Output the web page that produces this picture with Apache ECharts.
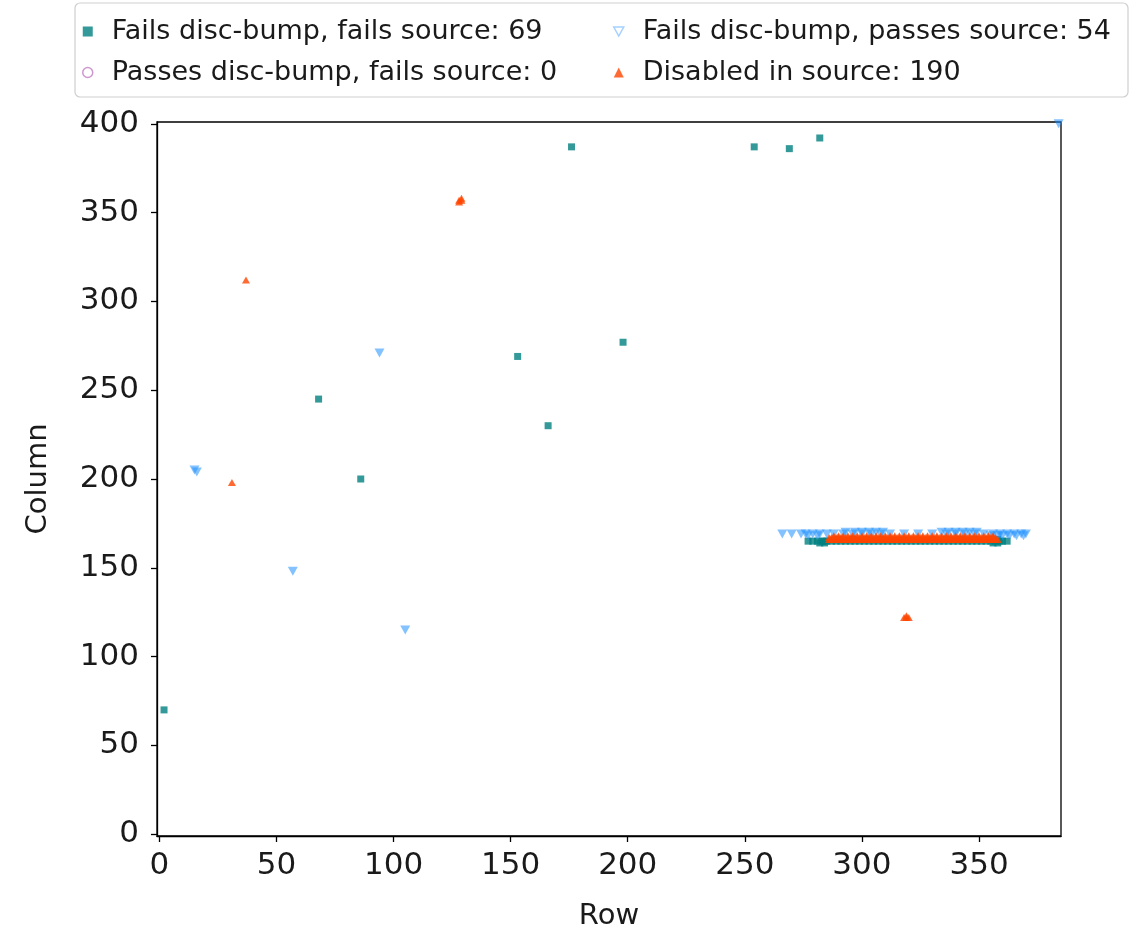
<!DOCTYPE html>
<html>
<head>
<meta charset="utf-8">
<script src="https://cdn.jsdelivr.net/npm/echarts@6/dist/echarts.min.js"></script>
<style>
  html, body { margin: 0; padding: 0; background: #fff; }
  #chart { width: 1148px; height: 936px; }
</style>
</head>
<body>
<div id="chart"></div>
<script>
// tick labels
const rowTicks = [0, 50, 100, 150, 200, 250, 300, 350]
const colTicks = [0, 50, 100, 150, 200, 250, 300, 350, 400]

// fails disc-bump, fails source: [row, column]
const failsFailsLoose = [[2, 70], [68, 245], [86, 200], [153, 269], [166, 230], [176, 387], [198, 277], [254, 387], [269, 386], [282, 392]]
const failsFailsBand165 = [277, 279, 281, 283, 284, 285, 287, 289, 291, 293, 295, 297, 299, 301, 303, 305, 307, 309, 311, 313, 315, 317, 319, 321, 323, 325, 327, 329, 331, 333, 335, 337, 339, 341, 343, 345, 347, 349, 351, 353, 355, 357, 359, 360, 362]
const failsFailsBand166 = [290, 296, 302, 308, 330, 336, 342, 348, 354, 358]
const failsFailsBand164 = [282, 284, 356, 358]

// passes disc-bump, fails source: none
const passesFails = []

// fails disc-bump, passes source
const failsPassesLoose = [[15, 205], [16, 204], [57, 148], [94, 271], [105, 115], [384, 400]]
const failsPassesBand169 = [266, 270, 274, 276, 279, 282, 285, 288, 292, 296, 300, 304, 308, 312, 318, 324, 330, 336, 340, 344, 348, 352, 356, 359, 362, 365, 368, 370]
const failsPassesBand170 = [293, 297, 300, 303, 306, 309, 334, 337, 340, 343, 346, 349]
const failsPassesBand168 = [277, 281, 355, 358, 360, 363, 366, 369]

// disabled in source
const disabledLoose = [[31, 198], [37, 312], [128, 356], [129, 357], [129, 358], [128, 357], [318, 122], [319, 123], [320, 122], [319, 122]]
const disabledBand166 = [286, 287, 288, 289, 290, 291, 292, 293, 294, 295, 296, 297, 298, 299, 300, 301, 302, 303, 304, 305, 306, 307, 308, 309, 310, 311, 312, 313, 314, 315, 316, 317, 318, 319, 320, 321, 322, 323, 324, 325, 326, 327, 328, 329, 330, 331, 332, 333, 334, 335, 336, 337, 338, 339, 340, 341, 342, 343, 344, 345, 346, 347, 348, 349, 350, 351, 352, 353, 354, 355, 356, 357, 358]
const disabledBand167 = [286, 287, 288, 289, 290, 291, 292, 293, 294, 295, 296, 297, 298, 299, 300, 301, 302, 303, 304, 305, 306, 307, 308, 309, 310, 311, 312, 313, 314, 315, 316, 317, 318, 319, 320, 321, 322, 323, 324, 325, 326, 327, 328, 329, 330, 331, 332, 333, 334, 335, 336, 337, 338, 339, 340, 341, 342, 343, 344, 345, 346, 347, 348, 349, 350, 351, 352, 353, 354, 355, 356, 357]
const disabledBand168 = [288, 290, 292, 294, 296, 298, 300, 302, 304, 306, 308, 310, 312, 314, 316, 318, 320, 322, 324, 326, 328, 330, 332, 334, 336, 338, 340, 342, 344, 346, 348, 350, 352, 354, 356]

const band = (rows, col) => rows.map(r => [r, col])

const failsFails = failsFailsLoose.concat(band(failsFailsBand165, 165), band(failsFailsBand166, 166), band(failsFailsBand164, 164))
const failsPasses = failsPassesLoose.concat(band(failsPassesBand169, 169), band(failsPassesBand170, 170), band(failsPassesBand168, 168))
const disabled = disabledLoose.concat(band(disabledBand166, 166), band(disabledBand167, 167), band(disabledBand168, 168))

const nameFF = 'Fails disc-bump, fails source: ' + failsFails.length
const namePF = 'Passes disc-bump, fails source: ' + passesFails.length
const nameFP = 'Fails disc-bump, passes source: ' + failsPasses.length
const nameDis = 'Disabled in source: ' + disabled.length

const font = 'DejaVu Sans'
const downTri = 'path://M0,0 L10,0 L5,9 Z'

const legendText = { fontFamily: font, fontSize: 27, color: '#1a1a1a', padding: [0, 0, 0, 14] }
const tickText = { fontFamily: font, fontSize: 31, color: '#1a1a1a' }
const nameText = { fontFamily: font, fontSize: 29, color: '#1a1a1a' }

const option = {
  animation: false,
  backgroundColor: '#fff',
  graphic: [{
    type: 'rect',
    shape: { x: 75, y: 3, width: 1053, height: 94, r: 5 },
    style: { fill: '#fff', stroke: '#cfcfcf', lineWidth: 1.2 },
    z: -1,
  }],
  legend: [
    {
      orient: 'vertical',
      left: 82,
      top: 18,
      padding: 0,
      itemGap: 14,
      itemWidth: 10,
      itemHeight: 10,
      selectedMode: false,
      textStyle: legendText,
      data: [
        { name: nameFF, icon: 'rect', itemStyle: { color: '#008080' } },
        { name: namePF, icon: 'circle', itemStyle: { color: 'rgba(0,0,0,0)', borderColor: '#c27ec2', borderWidth: 1.5 } },
      ],
    },
    {
      orient: 'vertical',
      left: 613,
      top: 18,
      padding: 0,
      itemGap: 14,
      itemWidth: 10,
      itemHeight: 10,
      selectedMode: false,
      textStyle: legendText,
      data: [
        { name: nameFP, icon: downTri, itemStyle: { color: 'rgba(0,0,0,0)', borderColor: '#5aa9ff', borderWidth: 1.5 } },
        { name: nameDis, icon: 'triangle', itemStyle: { color: '#ff4500' } },
      ],
    },
  ],
  grid: {
    left: 157,
    right: 87,
    top: 122,
    bottom: 98,
    show: true,
    borderColor: '#000',
    borderWidth: 1.3,
  },
  xAxis: {
    type: 'value',
    min: -1,
    max: 385,
    name: 'Row',
    nameLocation: 'middle',
    nameGap: 66,
    nameTextStyle: nameText,
    splitLine: { show: false },
    axisLine: { show: true, onZero: false, lineStyle: { color: '#000', width: 1.3 } },
    axisTick: { show: true, length: 6, customValues: rowTicks, lineStyle: { color: '#000', width: 1.3 } },
    axisLabel: Object.assign({ customValues: rowTicks, margin: 14 }, tickText),
  },
  yAxis: {
    type: 'value',
    min: -1,
    max: 401,
    name: 'Column',
    nameLocation: 'middle',
    nameGap: 104,
    nameTextStyle: nameText,
    splitLine: { show: false },
    axisLine: { show: true, onZero: false, lineStyle: { color: '#000', width: 1.3 } },
    axisTick: { show: true, length: 6, customValues: colTicks, lineStyle: { color: '#000', width: 1.3 } },
    axisLabel: Object.assign({ customValues: colTicks, margin: 18 }, tickText),
  },
  series: [
    {
      name: nameFF,
      type: 'scatter',
      symbol: 'rect',
      symbolSize: 7,
      itemStyle: { color: '#008080' },
      data: failsFails,
    },
    {
      name: namePF,
      type: 'scatter',
      symbol: 'circle',
      symbolSize: 8,
      itemStyle: { color: 'rgba(0,0,0,0)', borderColor: '#c27ec2', borderWidth: 1.5 },
      data: passesFails,
    },
    {
      name: nameFP,
      type: 'scatter',
      symbol: downTri,
      symbolSize: [10, 9],
      itemStyle: { color: '#1e90ff', opacity: 0.55 },
      data: failsPasses,
    },
    {
      name: nameDis,
      type: 'scatter',
      symbol: 'triangle',
      symbolSize: [8, 7],
      itemStyle: { color: '#ff4500' },
      data: disabled,
    },
  ],
}

const chart = echarts.init(document.getElementById('chart'))
chart.setOption(option)
</script>
</body>
</html>
